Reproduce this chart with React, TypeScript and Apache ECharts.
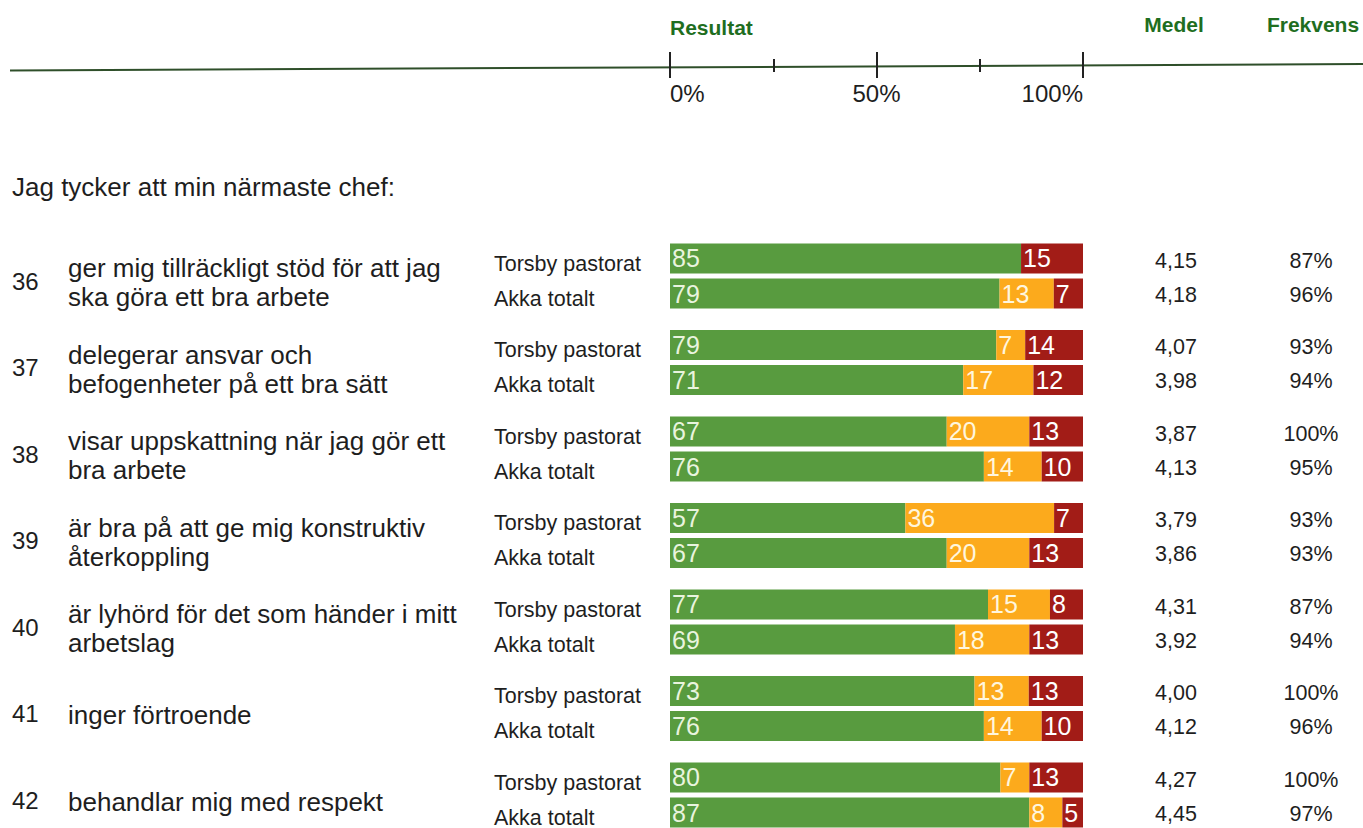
import React, { useEffect, useRef } from "react";
import * as echarts from "echarts";

const questionNumbers = ["36", "37", "38", "39", "40", "41", "42"];
const questions = [
  "ger mig tillräckligt stöd för att jag\nska göra ett bra arbete",
  "delegerar ansvar och\nbefogenheter på ett bra sätt",
  "visar uppskattning när jag gör ett\nbra arbete",
  "är bra på att ge mig konstruktiv\nåterkoppling",
  "är lyhörd för det som händer i mitt\narbetslag",
  "inger förtroende",
  "behandlar mig med respekt",
];
const groupNames = ["Torsby pastorat", "Akka totalt"];

const torsbyGreen = [85, 79, 67, 57, 77, 73, 80];
const torsbyOrange = [0, 7, 20, 36, 15, 13, 7];
const torsbyRed = [15, 14, 13, 7, 8, 13, 13];
const akkaGreen = [79, 71, 76, 67, 69, 76, 87];
const akkaOrange = [13, 17, 14, 20, 18, 14, 8];
const akkaRed = [7, 12, 10, 13, 13, 10, 5];

const medelTorsby = [4.15, 4.07, 3.87, 3.79, 4.31, 4.0, 4.27];
const medelAkka = [4.18, 3.98, 4.13, 3.86, 3.92, 4.12, 4.45];
const frekvensTorsby = [87, 93, 100, 93, 87, 100, 100];
const frekvensAkka = [96, 94, 95, 93, 94, 96, 97];

const axisTicks = [0, 25, 50, 75, 100];

const FONT = "'Liberation Sans', Arial, sans-serif";
const GREEN = "#589b3f";
const ORANGE = "#fcaa1c";
const RED = "#a21c17";
const HEAD = "#1f6e1f";
const TEXT = "#1e1e1e";

// a thin leading line that nudges a centred label downwards
const spacer = (h: number) => ({ s: { fontSize: 1, lineHeight: h, height: h } });
const withSpacer = (t: string) => "{s| }\n" + t;

function buildOption() {
  const rowsT = [torsbyGreen, torsbyOrange, torsbyRed];
  const rowsA = [akkaGreen, akkaOrange, akkaRed];
  const sum = (rows: number[][], i: number) => rows.reduce((s, r) => s + r[i], 0);
  const colors = [GREEN, ORANGE, RED];
  const labelColors = ["#e9f4de", "#fff6de", "#ffffff"];

  const mk = (rows: number[][], stack: string, k: number) => ({
    type: "bar",
    stack,
    barWidth: 30,
    barGap: "16.67%",
    itemStyle: { color: colors[k] },
    data: rows[k].map((v, i) => (v * 100) / sum(rows, i)),
    label: {
      show: true,
      position: "insideLeft",
      distance: 2,
      fontFamily: FONT,
      fontSize: 25,
      color: labelColors[k],
      formatter: (p: any) => {
        const raw = rows[k][p.dataIndex];
        return raw > 0 ? String(raw) : "";
      },
    },
  });

  const series: any[] = [];
  for (let k = 0; k < 3; k++) series.push(mk(rowsT, "T", k));
  for (let k = 0; k < 3; k++) series.push(mk(rowsA, "A", k));

  const hiddenAxis = {
    axisLine: { show: false },
    axisTick: { show: false },
    splitLine: { show: false },
  };

  const fmtMedel = (v: number) => v.toFixed(2).replace(".", ",");

  return {
    animation: false,
    grid: {
      left: 670,
      width: 413,
      top: 232.75,
      height: 605.5,
      containLabel: false,
      outerBoundsMode: "none",
    },
    xAxis: [
      {
        type: "value",
        position: "top",
        offset: 164.75,
        min: 0,
        max: 100,
        interval: 50,
        axisLine: { show: false },
        splitLine: { show: false },
        axisTick: { show: true, length: 16, lineStyle: { color: "#222", width: 2 } },
        minorTick: { show: true, splitNumber: 2, length: 9, lineStyle: { color: "#222", width: 2 } },
        minorSplitLine: { show: false },
        axisLabel: {
          inside: true,
          margin: 13,
          fontFamily: FONT,
          fontSize: 24,
          color: TEXT,
          alignMinLabel: "left",
          alignMaxLabel: "right",
          formatter: (v: number) => (axisTicks.includes(v) ? v + "%" : ""),
        },
      },
      {
        type: "value",
        position: "top",
        offset: 164.75,
        min: 0,
        max: 100,
        interval: 50,
        axisLine: { show: false },
        splitLine: { show: false },
        axisTick: { show: true, inside: true, length: 10, lineStyle: { color: "#222", width: 2 } },
        minorTick: { show: true, splitNumber: 2, length: 4, lineStyle: { color: "#222", width: 2 } },
        minorSplitLine: { show: false },
        axisLabel: { show: false },
      },
    ],
    yAxis: [
      {
        type: "category",
        position: "left",
        inverse: true,
        data: questions,
        ...hiddenAxis,
        axisLabel: {
          align: "left",
          margin: 602,
          fontFamily: FONT,
          fontSize: 26,
          lineHeight: 29,
          color: TEXT,
          rich: spacer(13),
          formatter: (v: string) => withSpacer(v),
        },
      },
      {
        type: "category",
        position: "left",
        inverse: true,
        data: questionNumbers,
        ...hiddenAxis,
        axisLabel: {
          align: "left",
          margin: 658,
          fontFamily: FONT,
          fontSize: 24,
          lineHeight: 28,
          color: TEXT,
          rich: spacer(10),
          formatter: (v: string) => withSpacer(v),
        },
      },
      {
        type: "category",
        position: "left",
        inverse: true,
        data: questionNumbers,
        ...hiddenAxis,
        axisLabel: {
          align: "left",
          margin: 176,
          fontFamily: FONT,
          fontSize: 21.5,
          lineHeight: 35,
          color: TEXT,
          rich: spacer(10),
          formatter: () => withSpacer(groupNames.join("\n")),
        },
      },
      {
        type: "category",
        position: "right",
        inverse: true,
        data: questionNumbers,
        ...hiddenAxis,
        axisLabel: {
          align: "center",
          margin: 93,
          fontFamily: FONT,
          fontSize: 21.5,
          lineHeight: 34,
          color: TEXT,
          rich: spacer(3),
          formatter: (_v: string, i: number) =>
            withSpacer(fmtMedel(medelTorsby[i]) + "\n" + fmtMedel(medelAkka[i])),
        },
      },
      {
        type: "category",
        position: "right",
        inverse: true,
        data: questionNumbers,
        ...hiddenAxis,
        axisLabel: {
          align: "center",
          margin: 228,
          fontFamily: FONT,
          fontSize: 21.5,
          lineHeight: 34,
          color: TEXT,
          rich: spacer(3),
          formatter: (_v: string, i: number) =>
            withSpacer(frekvensTorsby[i] + "%\n" + frekvensAkka[i] + "%"),
        },
      },
    ],
    graphic: [
      {
        type: "line",
        shape: { x1: 10, y1: 70.5, x2: 1363, y2: 64 },
        style: { stroke: "#2f4f2a", lineWidth: 2 },
      },
      {
        type: "text",
        x: 670,
        y: 27,
        style: { text: "Resultat", font: `bold 21px ${FONT}`, fill: HEAD, verticalAlign: "middle" },
      },
      {
        type: "text",
        x: 1174,
        y: 24,
        style: { text: "Medel", font: `bold 21px ${FONT}`, fill: HEAD, align: "center", verticalAlign: "middle" },
      },
      {
        type: "text",
        x: 1313,
        y: 24,
        style: { text: "Frekvens", font: `bold 21px ${FONT}`, fill: HEAD, align: "center", verticalAlign: "middle" },
      },
      {
        type: "text",
        x: 12,
        y: 187,
        style: { text: "Jag tycker att min närmaste chef:", font: `26px ${FONT}`, fill: TEXT, verticalAlign: "middle" },
      },
    ],
    series,
  };
}

export default function App() {
  const ref = useRef<HTMLDivElement>(null);
  useEffect(() => {
    if (!ref.current) return;
    const chart = echarts.init(ref.current, undefined, { renderer: "svg" });
    chart.setOption(buildOption() as any);
    return () => chart.dispose();
  }, []);
  return (
    <div
      ref={ref}
      style={{ position: "fixed", left: 0, top: 0, width: 1363, height: 828, background: "#fff" }}
    />
  );
}
